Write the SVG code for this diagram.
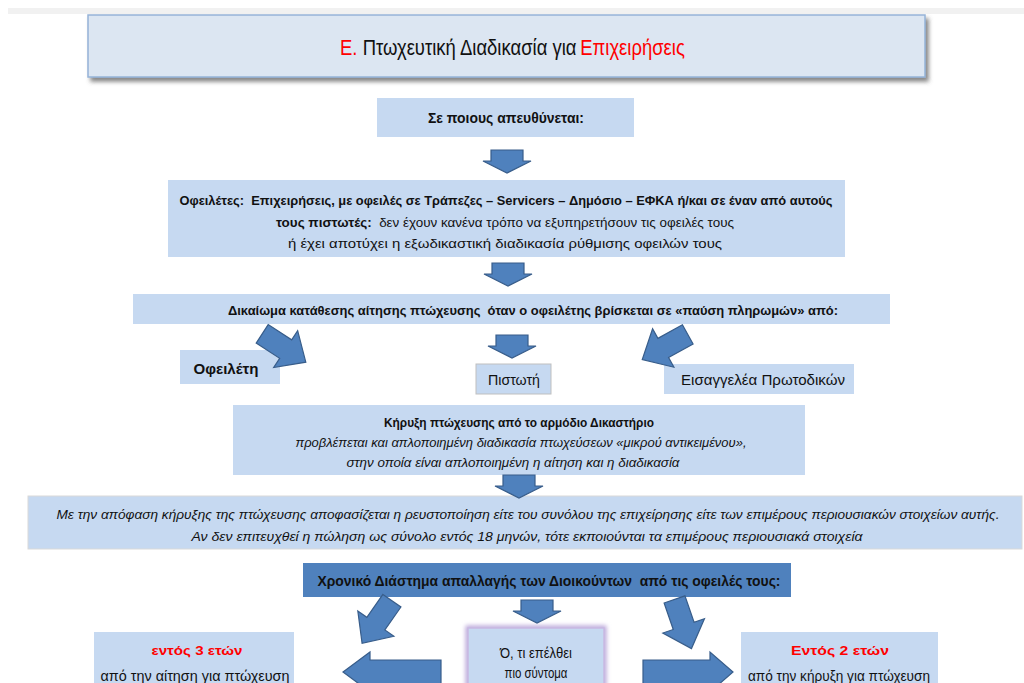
<svg xmlns="http://www.w3.org/2000/svg" width="1024" height="683" viewBox="0 0 1024 683">
<defs>
<style>
text{font-family:"Liberation Sans","Noto Sans",sans-serif;fill:#111;text-anchor:middle;white-space:pre}
.b{font-weight:bold}
.i{font-style:italic}
.red{fill:#ff0000}
.box{fill:#c6d9f1}
.arr{fill:#4f81bd;stroke:#385d8a;stroke-width:1.2;stroke-linejoin:miter}
</style>
<filter id="sh" x="-5%" y="-20%" width="115%" height="160%">
<feDropShadow dx="3" dy="4" stdDeviation="2" flood-color="#555" flood-opacity="0.7"/>
</filter>
<filter id="glow" x="-20%" y="-20%" width="140%" height="140%">
<feGaussianBlur stdDeviation="2"/>
</filter>
<path id="dn" d="M-16,-11 H16 V0 H24 L0,12 L-24,0 H-16 Z"/>
<path id="dg" d="M-11,-26 H11 V2 H22 L0,26 L-22,2 H-11 Z"/>
</defs>
<rect width="1024" height="683" fill="#fff"/>
<rect x="8" y="8" width="1016" height="6" fill="#f1f1f1"/>

<g id="title">
<rect x="88" y="15" width="837" height="62" fill="#dce6f2" stroke="#95b3d7" stroke-width="1.5" filter="url(#sh)"/>
<g transform="translate(340,55) scale(0.84,1)">
<text x="0" y="0" class="red" style="font-size:22px;text-anchor:start">Ε.</text>
<text x="27" y="0" style="font-size:22px;text-anchor:start">Πτωχευτική Διαδικασία για</text>
<text x="286" y="0" class="red" style="font-size:22px;text-anchor:start">Επιχειρήσεις</text>
</g>
</g>

<g id="target">
<rect x="377" y="98" width="257" height="39" class="box"/>
<text x="506" y="123" class="b" style="font-size:14px" textLength="156" lengthAdjust="spacingAndGlyphs">Σε ποιους απευθύνεται:</text>
</g>

<g id="debtors">
<rect x="168" y="180" width="677" height="77" class="box"/>
<text x="506" y="205" class="b" style="font-size:13px" textLength="653" lengthAdjust="spacingAndGlyphs">Οφειλέτες:  Επιχειρήσεις, με οφειλές σε Τράπεζες – Servicers – Δημόσιο – ΕΦΚΑ ή/και σε έναν από αυτούς</text>
<text x="276" y="227" style="font-size:13px;text-anchor:start" textLength="458" lengthAdjust="spacingAndGlyphs"><tspan class="b">τους πιστωτές:</tspan>  δεν έχουν κανένα τρόπο να εξυπηρετήσουν τις οφειλές τους</text>
<text x="505" y="248" style="font-size:13px" textLength="434" lengthAdjust="spacingAndGlyphs">ή έχει αποτύχει η εξωδικαστική διαδικασία ρύθμισης οφειλών τους</text>
</g>

<g id="right">
<rect x="133" y="294" width="757" height="30" class="box"/>
<text x="533" y="315" class="b" style="font-size:13px" textLength="610" lengthAdjust="spacingAndGlyphs">Δικαίωμα κατάθεσης αίτησης πτώχευσης  όταν ο οφειλέτης βρίσκεται σε «παύση πληρωμών» από:</text>
</g>

<g id="debtor">
<rect x="180" y="350" width="100" height="34" class="box"/>
<text x="226" y="374" class="b" style="font-size:15px" textLength="65" lengthAdjust="spacingAndGlyphs">Οφειλέτη</text>
</g>
<g id="creditor">
<rect x="476" y="364" width="75" height="30" class="box" stroke="#bfbfbf" stroke-width="1"/>
<text x="514" y="385" style="font-size:14px" textLength="52" lengthAdjust="spacingAndGlyphs">Πιστωτή</text>
</g>
<g id="prosecutor">
<rect x="664" y="364" width="190" height="30" class="box"/>
<text x="763" y="385" style="font-size:14px" textLength="164" lengthAdjust="spacingAndGlyphs">Εισαγγελέα Πρωτοδικών</text>
</g>

<g id="declaration">
<rect x="233" y="405" width="572" height="70" class="box"/>
<text x="519" y="427" class="b" style="font-size:12px" textLength="270" lengthAdjust="spacingAndGlyphs">Κήρυξη πτώχευσης από το αρμόδιο Δικαστήριο</text>
<text x="521" y="447" class="i" style="font-size:12px" textLength="451" lengthAdjust="spacingAndGlyphs">προβλέπεται και απλοποιημένη διαδικασία πτωχεύσεων «μικρού αντικειμένου»,</text>
<text x="513" y="467" class="i" style="font-size:12px" textLength="333" lengthAdjust="spacingAndGlyphs">στην οποία είναι απλοποιημένη η αίτηση και η διαδικασία</text>
</g>

<g id="liquidation">
<rect x="28" y="496" width="994" height="53" class="box" stroke="#d9d9d9" stroke-width="1"/>
<text x="528" y="519" class="i" style="font-size:13px" textLength="943" lengthAdjust="spacingAndGlyphs">Με την απόφαση κήρυξης της πτώχευσης αποφασίζεται η ρευστοποίηση είτε του συνόλου της επιχείρησης είτε των επιμέρους περιουσιακών στοιχείων αυτής.</text>
<text x="527" y="541" class="i" style="font-size:13px" textLength="671" lengthAdjust="spacingAndGlyphs">Αν δεν επιτευχθεί η πώληση ως σύνολο εντός 18 μηνών, τότε εκποιούνται τα επιμέρους περιουσιακά στοιχεία</text>
</g>

<g id="period">
<rect x="303" y="563" width="488" height="34" fill="#4f81bd"/>
<text x="549" y="586" class="b" style="font-size:15px" textLength="463" lengthAdjust="spacingAndGlyphs">Χρονικό Διάστημα απαλλαγής των Διοικούντων  από τις οφειλές τους:</text>
</g>

<g id="three-years">
<rect x="94" y="632" width="200" height="60" class="box"/>
<text x="197" y="655" class="b red" style="font-size:13px" textLength="91" lengthAdjust="spacingAndGlyphs">εντός 3 ετών</text>
<text x="195" y="681" style="font-size:14px" textLength="189" lengthAdjust="spacingAndGlyphs">από την αίτηση για πτώχευση</text>
</g>

<g id="earliest">
<rect x="468" y="628" width="136" height="62" fill="none" stroke="#b9a6d9" stroke-width="5" filter="url(#glow)"/>
<rect x="468" y="628" width="136" height="62" class="box" stroke="#c8b8e2" stroke-width="1.5"/>
<text x="536" y="658" style="font-size:14px" textLength="72" lengthAdjust="spacingAndGlyphs">Ό, τι επέλθει</text>
<text x="536" y="678" style="font-size:14px" textLength="63" lengthAdjust="spacingAndGlyphs">πιο σύντομα</text>
</g>

<g id="two-years">
<rect x="741" y="632" width="197" height="60" class="box"/>
<text x="840" y="655" class="b red" style="font-size:13px" textLength="98" lengthAdjust="spacingAndGlyphs">Εντός 2 ετών</text>
<text x="839" y="681" style="font-size:14px" textLength="182" lengthAdjust="spacingAndGlyphs">από την κήρυξη για πτώχευση</text>
</g>

<g id="connectors">
<use href="#dn" class="arr" transform="translate(507,161)"/>
<use href="#dn" class="arr" transform="translate(508,274)"/>
<use href="#dg" class="arr" transform="translate(284,348) rotate(-57)"/>
<use href="#dn" class="arr" transform="translate(512,346)"/>
<use href="#dg" class="arr" transform="translate(665,347) rotate(61)"/>
<use href="#dn" class="arr" transform="translate(519,486)"/>
<use href="#dg" class="arr" transform="translate(377,622) rotate(35)"/>
<use href="#dn" class="arr" transform="translate(537,611)"/>
<use href="#dg" class="arr" transform="translate(683,624) rotate(-19)"/>
<path class="arr" d="M441,660 H370 V652 L343,672 L370,692 V684 H441 Z"/>
<path class="arr" d="M643,660 H710 V652 L733,672 L710,692 V684 H643 Z"/>
</g>
</svg>
